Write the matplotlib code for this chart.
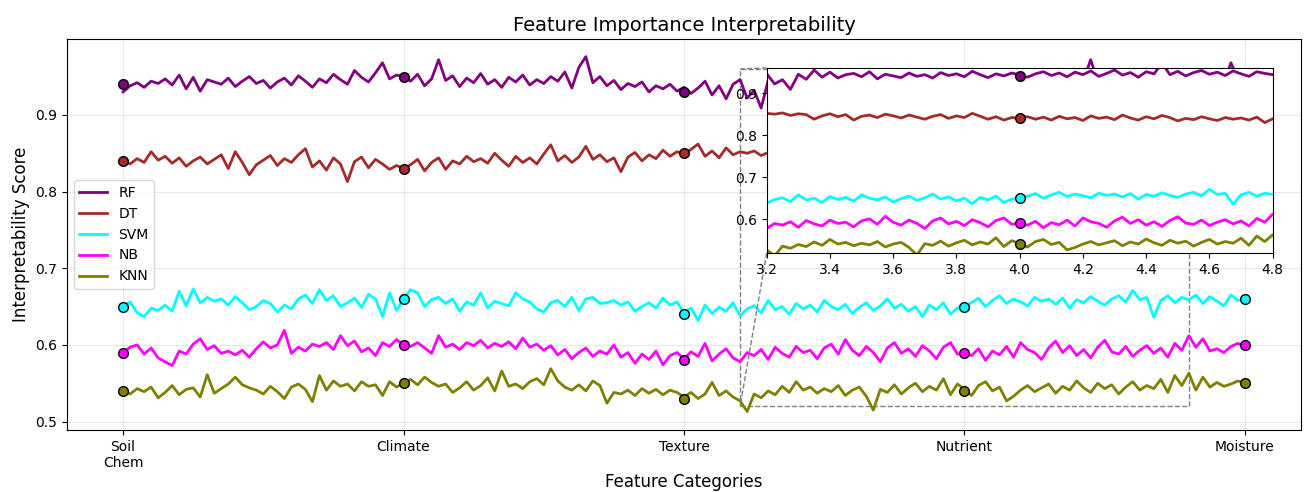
import matplotlib
matplotlib.use("Agg")
import matplotlib.pyplot as plt
import numpy as np
from mpl_toolkits.axes_grid1.inset_locator import mark_inset

categories = ["Soil\nChem", "Climate", "Texture", "Nutrient", "Moisture"]
cat_x = [1, 2, 3, 4, 5]

# marker values at each category
rf_pts = [0.94, 0.95, 0.93, 0.94, 0.95]
dt_pts = [0.84, 0.83, 0.85, 0.84, 0.83]
svm_pts = [0.65, 0.66, 0.64, 0.65, 0.66]
nb_pts = [0.59, 0.60, 0.58, 0.59, 0.60]
knn_pts = [0.54, 0.55, 0.53, 0.54, 0.55]

# score traces (x1000)
rf = [930, 938, 942, 936, 944, 941, 947, 939, 952, 934, 949, 931, 946, 943, 940, 948, 937, 944, 950, 941,
      945, 935, 943, 948, 939, 951, 944, 936, 947, 942, 953, 946, 940, 958, 949, 943, 955, 968, 947, 952, 950,
      944, 953, 938, 947, 972, 945, 951, 937, 948, 942, 954, 940, 946, 936, 949, 943, 952, 939, 946, 941,
      950, 944, 956, 935, 962, 976, 942, 950, 938, 945, 933, 941, 937, 943, 930, 938, 934, 940, 931, 936,
      928, 935, 944, 926, 938, 921, 940, 946, 922, 932, 909, 945, 933, 955, 938, 950, 936, 944, 947, 939,
      951, 934, 945, 941, 937, 948, 940, 944, 936, 949, 942, 946, 939, 952, 944, 937, 946, 941, 948, 943,
      938, 946, 951, 942, 948, 939, 950, 944, 953, 940, 947, 955, 943, 949, 938, 951, 946, 972, 944, 952,
      941, 949, 954, 945, 950, 942, 953, 946, 940, 951, 947, 944, 950, 943, 952, 946, 941, 968, 947, 950]
dt = [840, 836, 843, 838, 852, 841, 846, 837, 844, 833, 840, 845, 836, 842, 848, 830, 852, 838, 822, 835,
      841, 847, 834, 843, 838, 848, 856, 832, 840, 828, 844, 836, 813, 839, 845, 831, 842, 836, 829, 834, 830,
      835, 842, 827, 838, 844, 829, 840, 836, 846, 839, 843, 837, 850, 841, 833, 846, 838, 844, 836, 849,
      861, 840, 847, 838, 845, 859, 842, 848, 839, 844, 826, 845, 851, 840, 848, 843, 854, 846, 852, 849,
      855, 862, 846, 853, 844, 857, 848, 852, 850, 853, 847, 851, 849, 838, 846, 851, 844, 849, 836, 845,
      848, 842, 850, 846, 841, 848, 843, 838, 845, 849, 840, 846, 842, 852, 845, 838, 844, 836, 842, 840,
      844, 838, 843, 836, 845, 839, 842, 835, 846, 840, 843, 837, 848, 841, 836, 844, 839, 847, 842, 834,
      840, 837, 844, 839, 835, 842, 838, 841, 836, 843, 830, 839, 826, 838, 842, 833, 840, 836, 832, 830]
svm = [650, 656, 642, 637, 648, 645, 652, 644, 670, 651, 673, 655, 662, 657, 660, 652, 663, 655, 646, 650,
       658, 654, 643, 652, 647, 660, 665, 654, 672, 658, 664, 650, 655, 661, 649, 666, 660, 637, 668, 645, 660,
       672, 668, 650, 659, 662, 654, 660, 644, 656, 652, 668, 648, 657, 654, 651, 668, 660, 656, 647, 643,
       655, 658, 650, 662, 645, 660, 662, 654, 655, 658, 652, 656, 644, 650, 655, 648, 661, 652, 656, 642,
       648, 632, 652, 641, 649, 644, 655, 638, 647, 651, 642, 658, 646, 650, 640, 654, 647, 652, 643, 658,
       650, 646, 653, 641, 649, 655, 645, 651, 660, 648, 653, 644, 650, 637, 652, 646, 655, 640, 648, 650,
       655, 661, 650, 658, 664, 654, 660, 656, 651, 662, 657, 660, 653, 661, 648, 659, 655, 663, 657, 652,
       660, 664, 656, 671, 659, 662, 636, 658, 664, 655, 662, 659, 665, 654, 663, 657, 651, 665, 658, 660]
nb = [590, 597, 600, 588, 596, 583, 578, 573, 592, 588, 601, 608, 594, 599, 589, 592, 587, 593, 584, 595,
      604, 596, 600, 619, 589, 597, 592, 601, 598, 603, 594, 612, 599, 605, 591, 596, 586, 603, 598, 607, 600,
      598, 603, 596, 589, 612, 597, 601, 594, 603, 599, 606, 596, 602, 598, 604, 595, 609, 597, 601, 593,
      599, 587, 594, 582, 590, 596, 585, 592, 588, 600, 584, 590, 576, 588, 581, 592, 574, 586, 590, 582,
      591, 585, 602, 579, 588, 595, 583, 578, 590, 586, 594, 581, 597, 589, 584, 598, 590, 593, 582, 596,
      601, 588, 607, 593, 586, 598, 590, 578, 596, 603, 589, 595, 585, 599, 592, 582, 597, 603, 588, 590,
      586, 595, 580, 592, 587, 598, 584, 603, 594, 590, 581, 596, 605, 590, 599, 586, 594, 583, 597, 606,
      591, 588, 598, 585, 593, 599, 589, 596, 584, 602, 593, 612, 597, 608, 592, 595, 590, 598, 602, 598]
knn = [540, 536, 543, 539, 545, 531, 538, 547, 535, 542, 544, 532, 561, 537, 543, 549, 558, 548, 544, 541,
       536, 546, 539, 530, 545, 549, 542, 526, 560, 541, 553, 546, 549, 540, 552, 546, 548, 534, 552, 545, 550,
       555, 548, 558, 551, 546, 549, 538, 544, 552, 541, 547, 557, 540, 566, 546, 549, 543, 552, 556, 548,
       569, 553, 545, 541, 548, 540, 553, 547, 524, 538, 536, 541, 534, 543, 537, 542, 535, 541, 538, 532,
       538, 530, 536, 551, 534, 540, 532, 527, 513, 536, 531, 540, 535, 546, 538, 552, 541, 545, 537, 543,
       539, 547, 534, 541, 545, 533, 515, 542, 538, 548, 536, 544, 550, 539, 546, 541, 556, 535, 549, 542,
       534, 547, 552, 540, 545, 527, 533, 541, 547, 539, 544, 549, 537, 546, 541, 553, 544, 538, 550, 543,
       548, 536, 545, 552, 541, 547, 543, 555, 538, 560, 547, 563, 541, 558, 545, 551, 546, 549, 553, 550]

models = ["RF", "DT", "SVM", "NB", "KNN"]
colors = ["purple", "brown", "cyan", "magenta", "olive"]
traces = [rf, dt, svm, nb, knn]
points = [rf_pts, dt_pts, svm_pts, nb_pts, knn_pts]

fig, ax = plt.subplots(figsize=(13.06, 4.92), dpi=100)
fig.subplots_adjust(left=0.0513, right=0.9962, bottom=0.126, top=0.9207)

axins = ax.inset_axes([0.567, 0.453, 0.41, 0.473])

for name, col, tr, pts in zip(models, colors, traces, points):
    y = np.array(tr) / 1000.0
    x = np.linspace(1, 5, len(y))
    for a in (ax, axins):
        a.plot(x, y, color=col, lw=2, label=name)
        a.plot(cat_x, pts, "o", color=col, mec="black", mew=1, ms=7, zorder=3)

ax.set_xlim(0.8, 5.2)
ax.set_ylim(0.489, 0.999)
ax.set_xticks(cat_x)
ax.set_xticklabels(categories)
ax.set_yticks([0.5, 0.6, 0.7, 0.8, 0.9])
ax.grid(True, alpha=0.3)
ax.set_title("Feature Importance Interpretability", fontsize=14)
ax.set_xlabel("Feature Categories", fontsize=12, labelpad=2)
ax.set_ylabel("Interpretability Score", fontsize=12)
ax.legend(loc="center left", fontsize=10)

axins.set_xlim(3.2, 4.8)
axins.set_ylim(0.52, 0.96)
axins.set_yticks([0.6, 0.7, 0.8, 0.9])
mark_inset(ax, axins, loc1=2, loc2=3, fc="none", ec="0.5", ls="--")

fig.savefig("out.png", dpi=100, facecolor="white")
